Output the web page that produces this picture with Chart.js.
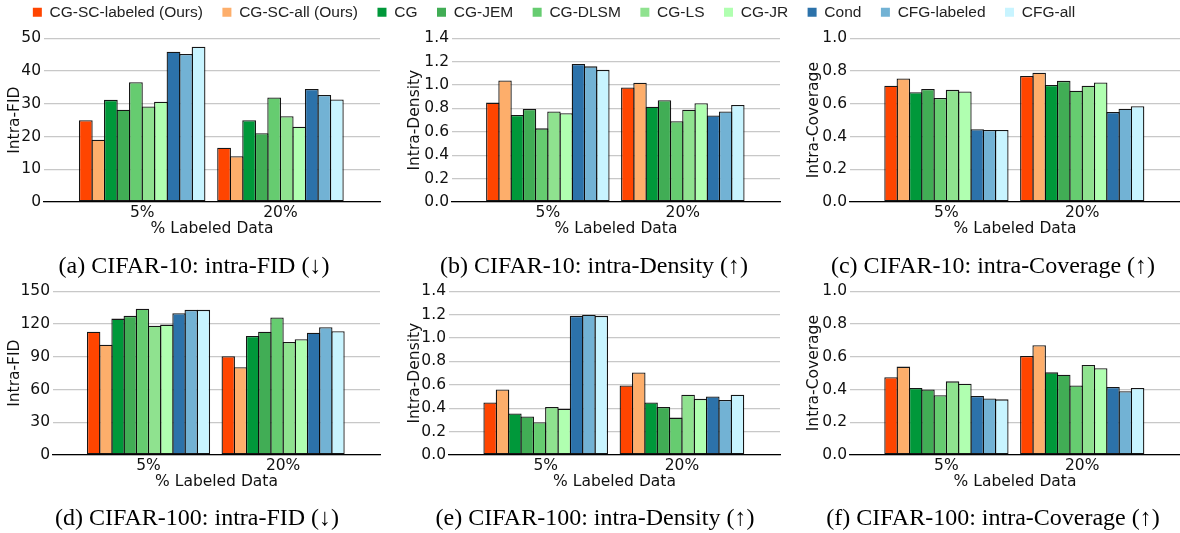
<!DOCTYPE html>
<html>
<head>
<meta charset="utf-8">
<script src="https://cdn.jsdelivr.net/npm/chart.js@4.4.0/dist/chart.umd.min.js"></script>
<style>
  html, body { margin: 0; padding: 0; background: #fff; }
  #fig { position: relative; width: 1180px; height: 533px; overflow: hidden; }
  #fig canvas { position: absolute; }
</style>
</head>
<body>
<div id="fig">
  <canvas id="legend" width="1108" height="90" style="left:0;top:-15px"></canvas>
  <canvas id="c10fid" width="388" height="256" style="left:0;top:26px"></canvas>
  <canvas id="c10den" width="388" height="256" style="left:400px;top:26px"></canvas>
  <canvas id="c10cov" width="406" height="256" style="left:790px;top:26px"></canvas>
  <canvas id="c100fid" width="394" height="254" style="left:0;top:279px"></canvas>
  <canvas id="c100den" width="390" height="254" style="left:400px;top:279px"></canvas>
  <canvas id="c100cov" width="406" height="254" style="left:790px;top:279px"></canvas>
</div>
<script>
'use strict'
{
  const groups = ['5%', '20%'];
  const methods = ['CG-SC-labeled (Ours)', 'CG-SC-all (Ours)', 'CG', 'CG-JEM', 'CG-DLSM',
    'CG-LS', 'CG-JR', 'Cond', 'CFG-labeled', 'CFG-all'];
  const colors = ['#ff4500', '#fdae6b', '#00983a', '#41ad55', '#66cc70',
    '#8fe28f', '#b0ffb0', '#2c72aa', '#72b2d4', '#c8f4ff'];

  // CIFAR-10
  const c10Fid5 = [25, 19, 31.2, 28.2, 36.6, 29.2, 30.6, 45.9, 45.2, 47.4];
  const c10Fid20 = [16.6, 14, 25, 21, 31.9, 26.2, 23, 34.5, 32.7, 31.3];
  const c10Den5 = [0.85, 1.04, 0.745, 0.795, 0.63, 0.775, 0.76, 1.18, 1.16, 1.13];
  const c10Den20 = [0.98, 1.02, 0.815, 0.87, 0.69, 0.79, 0.845, 0.74, 0.775, 0.83];
  const c10Cov5 = [0.71, 0.755, 0.67, 0.69, 0.635, 0.685, 0.675, 0.445, 0.44, 0.44];
  const c10Cov20 = [0.77, 0.79, 0.715, 0.74, 0.68, 0.71, 0.73, 0.55, 0.57, 0.585];

  // CIFAR-100
  const c100Fid5 = [113, 101, 125, 127.5, 134, 118.5, 119.5, 130, 133, 133];
  const c100Fid20 = [90.5, 80.5, 109, 113, 126, 103.5, 106, 112, 117, 113.5];
  const c100Den5 = [0.45, 0.56, 0.355, 0.33, 0.28, 0.41, 0.395, 1.19, 1.2, 1.19];
  const c100Den20 = [0.595, 0.705, 0.45, 0.41, 0.32, 0.515, 0.48, 0.5, 0.47, 0.515];
  const c100Cov5 = [0.475, 0.54, 0.41, 0.40, 0.365, 0.45, 0.435, 0.36, 0.345, 0.34];
  const c100Cov20 = [0.605, 0.67, 0.505, 0.49, 0.425, 0.55, 0.53, 0.415, 0.39, 0.41];

  const tickFont = { family: 'DejaVu Sans', size: 15.5 };
  const textColor = '#111';
  const oneDecimal = v => v.toFixed(1);
  const whole = v => v;

  function makeChart(id, cfg) {
    const datasets = methods.map((name, i) => ({
      label: name,
      data: cfg.values.map((vals, j) => ({ x: j, y: vals[i] })),
      backgroundColor: colors[i],
      borderColor: 'rgba(10,10,10,0.95)',
      borderWidth: 1.3,
      borderSkipped: false,
      barPercentage: 1.1,
      categoryPercentage: 0.906,
    }));

    return new Chart(document.getElementById(id), {
      type: 'bar',
      data: { datasets: datasets },
      options: {
        responsive: false,
        animation: false,
        devicePixelRatio: 1,
        layout: { padding: { top: 10, right: 0, left: 0, bottom: 0 } },
        scales: {
          x: {
            type: 'linear',
            min: -0.71,
            max: 1.72,
            offset: false,
            afterBuildTicks: s => { s.ticks = groups.map((g, j) => ({ value: j })); },
            afterFit: s => { s.height = 38; },
            ticks: {
              callback: v => groups[v],
              font: tickFont,
              color: textColor,
              padding: 2,
              autoSkip: false,
              maxRotation: 0,
            },
            grid: { display: false, drawTicks: false, offset: false },
            border: { display: true, color: '#000', width: 1.3 },
            title: {
              display: true,
              text: '% Labeled Data',
              font: tickFont,
              color: textColor,
              padding: { top: 0, bottom: 1.7 },
            },
          },
          y: {
            min: 0,
            max: cfg.max,
            afterFit: s => { s.width = cfg.axisW; },
            ticks: {
              stepSize: cfg.step,
              callback: cfg.fmt,
              font: tickFont,
              color: textColor,
              padding: 3,
            },
            grid: { color: '#c8c8c8', lineWidth: 1.2, drawTicks: false },
            border: { display: false },
            title: {
              display: true,
              text: cfg.ylabel,
              font: tickFont,
              color: textColor,
              padding: { top: cfg.titleX, bottom: 0 },
            },
          },
          // empty spacer on the right so the caption stays centred on the canvas
          spacer: {
            position: 'right',
            afterFit: s => { s.width = cfg.spacer; },
            ticks: { display: false },
            grid: { display: false, drawTicks: false },
            border: { display: false },
          },
        },
        plugins: {
          legend: { display: false },
          tooltip: { enabled: false },
          title: {
            display: true,
            position: 'bottom',
            text: cfg.caption,
            font: { family: 'Liberation Serif', size: 24, weight: 'normal' },
            color: '#000',
            padding: cfg.capPad,
          },
        },
      },
    });
  }

  const topCap = { top: 12.1, bottom: 1.1 };
  const botCap = { top: 11.2, bottom: 0 };

  makeChart('c10fid', { values: [c10Fid5, c10Fid20], max: 50, step: 10, fmt: whole,
    ylabel: 'Intra-FID', caption: '(a) CIFAR-10: intra-FID (↓)',
    axisW: 44, spacer: 8, titleX: 5.7, capPad: topCap });
  makeChart('c10den', { values: [c10Den5, c10Den20], max: 1.4, step: 0.2, fmt: oneDecimal,
    ylabel: 'Intra-Density', caption: '(b) CIFAR-10: intra-Density (↑)',
    axisW: 52, spacer: 8, titleX: 5.7, capPad: topCap });
  makeChart('c10cov', { values: [c10Cov5, c10Cov20], max: 1.0, step: 0.2, fmt: oneDecimal,
    ylabel: 'Intra-Coverage', caption: '(c) CIFAR-10: intra-Coverage (↑)',
    axisW: 60, spacer: 16, titleX: 14.7, capPad: topCap });
  makeChart('c100fid', { values: [c100Fid5, c100Fid20], max: 150, step: 30, fmt: whole,
    ylabel: 'Intra-FID', caption: '(d) CIFAR-100: intra-FID (↓)',
    axisW: 53, spacer: 14, titleX: 5.7, capPad: botCap });
  makeChart('c100den', { values: [c100Den5, c100Den20], max: 1.4, step: 0.2, fmt: oneDecimal,
    ylabel: 'Intra-Density', caption: '(e) CIFAR-100: intra-Density (↑)',
    axisW: 49, spacer: 10, titleX: 5.7, capPad: botCap });
  makeChart('c100cov', { values: [c100Cov5, c100Cov20], max: 1.0, step: 0.2, fmt: oneDecimal,
    ylabel: 'Intra-Coverage', caption: '(f) CIFAR-100: intra-Coverage (↑)',
    axisW: 60, spacer: 16, titleX: 14.7, capPad: botCap });

  // shared legend across the top
  new Chart(document.getElementById('legend'), {
    type: 'bar',
    data: {
      labels: [],
      datasets: methods.map((name, i) => ({ label: name, data: [], backgroundColor: colors[i], borderWidth: 0 })),
    },
    options: {
      responsive: false,
      animation: false,
      devicePixelRatio: 1,
      scales: { x: { display: false }, y: { display: false } },
      plugins: {
        tooltip: { enabled: false },
        legend: {
          position: 'top',
          labels: {
            boxWidth: 9,
            boxHeight: 9,
            padding: 19.5,
            font: { family: 'Liberation Sans', size: 15.5 },
            color: '#222',
          },
        },
      },
    },
  });
}
</script>
</body>
</html>
